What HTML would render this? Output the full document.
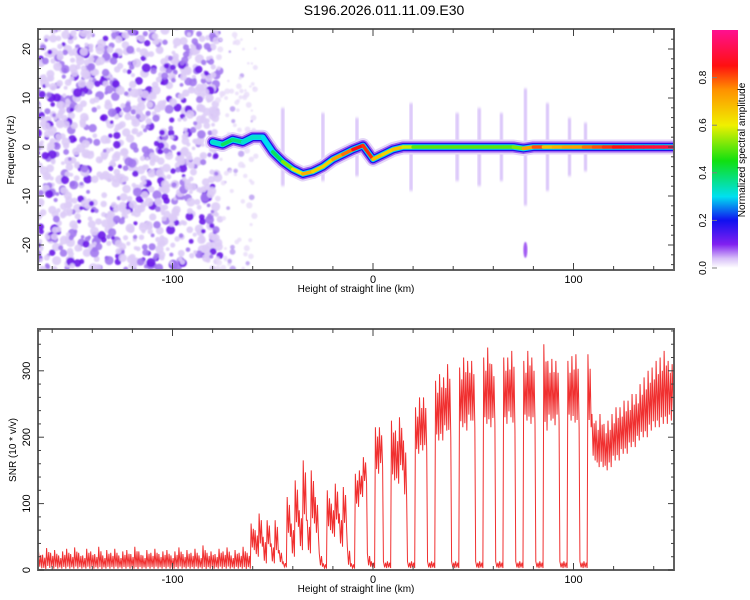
<!DOCTYPE html>
<html><head><meta charset="utf-8">
<style>
body{margin:0;background:#fff;}
svg{display:block;font-family:"Liberation Sans",sans-serif;}
</style></head><body>
<svg id="c" width="750" height="600" viewBox="0 0 750 600">
<defs>
<linearGradient id="cmap" x1="0" y1="1" x2="0" y2="0">
<stop offset="0" stop-color="#ffffff"/><stop offset="0.04" stop-color="#d8c0f8"/>
<stop offset="0.1" stop-color="#8020f0"/><stop offset="0.2" stop-color="#1010f0"/>
<stop offset="0.3" stop-color="#00e0f0"/><stop offset="0.45" stop-color="#10e010"/>
<stop offset="0.6" stop-color="#f0f000"/><stop offset="0.75" stop-color="#ff9000"/>
<stop offset="0.85" stop-color="#ff1010"/><stop offset="1" stop-color="#ff1090"/>
</linearGradient>
<clipPath id="clipTop"><rect x="38" y="29" width="636" height="241"/></clipPath>
<clipPath id="clipBot"><rect x="38" y="329" width="636" height="241"/></clipPath>
<filter id="soft"><feGaussianBlur stdDeviation="0.7"/></filter>
<filter id="soft2"><feGaussianBlur stdDeviation="1.2"/></filter>
</defs>
<text x="384" y="15" text-anchor="middle" font-size="14">S196.2026.011.11.09.E30</text>
<g id="topg" clip-path="url(#clipTop)"></g>
<g id="botg" clip-path="url(#clipBot)"></g>
<g id="axes"></g>
</svg>
<script>
// Spectrogram ridge data
const ridgeHeights=[-80,-75,-70,-65,-60,-55,-50,-45,-40,-35,-30,-25,-20,-15,-10,-5,0,5,10,15,20,25,30,35,40,45,50,55,60,65,70,75,80,85,90,95,100,105,110,115,120,125,130,135,140,145,150];
const ridgeFreq=[1,0.5,1.5,1,2,2,-1,-3,-4.5,-5.5,-5,-4,-2.5,-1.5,-0.5,0.3,-2.5,-1.5,-0.5,0,0,0,0,0,0,0,0,0,0,0,0,-0.3,0,0,0,0,0,0,0,0,0,0,0,0,0,0,0];
const ridgeAmp=[0.3,0.35,0.45,0.3,0.35,0.3,0.3,0.5,0.55,0.7,0.7,0.6,0.7,0.75,0.8,0.9,0.75,0.6,0.7,0.65,0.5,0.5,0.5,0.5,0.5,0.5,0.5,0.5,0.5,0.5,0.5,0.55,0.9,0.7,0.65,0.75,0.7,0.75,0.8,0.8,0.85,0.85,0.88,0.88,0.9,0.9,0.92];
const smearHeights=[-45,-25,-8,19,42,53,64,76,87,98,106];
const smearSpan=[8,7,6,9,7,8,7,12,9,6,5];
// SNR data: bin mean and noise spread, heights from -166 in 2 km steps
const snrStart=-166, snrStep=2;
const snrMean=[15,12,18,14,16,12,15,17,13,18,14,12,17,15,13,18,12,16,14,17,12,15,16,13,18,15,12,16,14,17,13,15,16,12,15,18,13,16,14,17,12,19,14,15,13,17,15,18,12,16,14,18,14,
50,40,60,30,55,25,50,20,8,80,45,100,60,120,50,110,80,15,6,90,75,100,60,95,20,6,120,130,150,15,
8,180,185,
8,8,180,170,190,150,8,8,210,220,
220,8,8,240,245,250,255,8,8,260,
265,270,265,8,8,270,275,265,8,8,
270,275,270,8,8,270,275,270,8,8,
275,270,268,270,8,8,270,272,270,8,
8,270,200,190,195,185,190,200,205,210,
215,220,225,230,240,245,255,260,265,270,
275,270,270];
const snrSpread=[25,22,30,24,28,20,26,30,22,32,24,20,30,26,22,34,20,28,24,30,20,26,28,22,34,26,20,28,24,30,22,26,28,20,26,32,22,28,24,30,20,36,24,26,22,30,26,32,20,28,24,34,24,
40,40,50,40,40,30,50,20,8,60,50,70,60,90,50,80,60,20,8,60,50,60,50,60,30,8,50,40,40,20,
10,70,60,
10,10,90,80,80,90,10,10,70,80,
80,10,10,90,100,80,110,10,10,90,
110,90,100,10,10,100,120,90,10,10,
100,90,120,10,10,90,110,100,10,10,
130,90,100,90,10,10,90,100,110,10,
10,110,70,70,80,70,70,70,80,70,
80,70,80,70,80,90,90,90,100,100,
110,90,80];
const xTicksLabeled=[-100,0,100];
const freqTicks=[-20,-10,0,10,20];
const snrTicks=[0,100,200,300];
const cbTicks=[0.0,0.2,0.4,0.6,0.8];

const NS='http://www.w3.org/2000/svg';
function mk(tag,attrs,parent){const e=document.createElementNS(NS,tag);for(const k in attrs)e.setAttribute(k,attrs[k]);parent.appendChild(e);return e;}
const X=km=>373+2.005*km;
const YF=f=>147-4.9*f;
const YS=s=>570-0.664*s;
function cmap(a){const st=[[0,[255,255,255]],[0.04,[216,192,248]],[0.1,[128,32,240]],[0.2,[16,16,240]],[0.3,[0,224,240]],[0.45,[16,224,16]],[0.6,[240,240,0]],[0.75,[255,144,0]],[0.85,[255,16,16]],[1,[255,16,144]]];
for(let i=1;i<st.length;i++){if(a<=st[i][0]){const t=(a-st[i-1][0])/(st[i][0]-st[i-1][0]);const c=st[i-1][1].map((v,j)=>Math.round(v+(st[i][1][j]-v)*t));return `rgb(${c})`;}}return 'rgb(255,16,144)';}

const topG=document.getElementById('topg');
// noise texture (decorative)
let seed=12345;function rnd(){seed=(seed*1103515245+12345)%2147483648;return seed/2147483648;}
const noise=mk('g',{filter:'url(#soft)'},topG);


for(let i=0;i<1150;i++){const km=-168+rnd()*92, f=-25+rnd()*50;
 const r=rnd(); mk('circle',{cx:X(km),cy:YF(f),r:1.8+rnd()*2.8,fill:r<0.6?'#ddccf7':(r<0.86?'#a278f0':'#6a18e8'),opacity:0.9},noise);}
for(let i=0;i<110;i++){const km=-78+rnd()*20, f=-25+rnd()*50;
 mk('circle',{cx:X(km),cy:YF(f),r:1.2+rnd()*2,fill:rnd()<0.85?'#e8dcf9':'#b899f0',opacity:0.8},noise);}
// smears
smearHeights.forEach((h,i)=>{const s=mk('rect',{x:X(h)-1.5,y:YF(smearSpan[i]),width:3,height:YF(-smearSpan[i])-YF(smearSpan[i]),fill:'#9a60f0',opacity:0.45,rx:1.5,filter:'url(#soft2)'},topG);
 
 });
const bl=mk('ellipse',{cx:X(76),cy:YF(-21),rx:2,ry:8,fill:'#8a30f0',opacity:0.8,filter:'url(#soft)'},topG);


// ridge
const pts=ridgeHeights.map((h,i)=>X(h)+','+YF(ridgeFreq[i])).join(' ');
[['#e4d6f8',15],['#a060f0',11],['#2010e8',8],['#00d8f0',5.5]].forEach(([c,w])=>{const p=mk('polyline',{points:pts,fill:'none',stroke:c,'stroke-width':w,'stroke-linejoin':'round','stroke-linecap':'round'},topG);
 
 });
for(let i=0;i<ridgeHeights.length-1;i++){const a=(ridgeAmp[i]+ridgeAmp[i+1])/2;
 const s=mk('line',{x1:X(ridgeHeights[i]),y1:YF(ridgeFreq[i]),x2:X(ridgeHeights[i+1]),y2:YF(ridgeFreq[i+1]),stroke:cmap(a),'stroke-width':3.5,'stroke-linecap':'round'},topG);
 
 }

// SNR line (zigzag between mean±spread within each bin)
const botG=document.getElementById('botg');
const spts=[];
snrMean.forEach((m,i)=>{const h=snrStart+i*snrStep,s=snrSpread[i];
 spts.push(X(h-0.8)+','+YS(m+s*0.5));
 spts.push(X(h-0.2)+','+YS(Math.max(0,m-s*0.4)));
 spts.push(X(h+0.3)+','+YS(m+s*0.3));
 spts.push(X(h+0.8)+','+YS(Math.max(0,m-s*0.5)));});
const sl=mk('polyline',{points:spts.join(' '),fill:'none',stroke:'#f03030','stroke-width':1,'stroke-linejoin':'miter'},botG);



// axes
const ax=document.getElementById('axes');
function frame(t,b,name){const r=mk('rect',{x:38,y:t,width:636,height:b-t,fill:'none',stroke:'#606060','stroke-width':2},ax);
 
 
 for(let k=-160;k<=140;k+=20){const tl=k%100===0?7:4;mk('line',{x1:X(k),y1:b,x2:X(k),y2:b-tl,stroke:'#404040'},ax);mk('line',{x1:X(k),y1:t,x2:X(k),y2:t+tl,stroke:'#404040'},ax);}
 xTicksLabeled.forEach(k=>{const tx=mk('text',{x:X(k),y:b+13,'text-anchor':'middle','font-size':11},ax);tx.textContent=k;
  
  });
 const xl=mk('text',{x:356,y:b+22,'text-anchor':'middle','font-size':10},ax);xl.textContent='Height of straight line (km)';
 
 }
frame(29,270,'spectrogram-frame');frame(329,570,'snr-frame');
for(let f=-24;f<=24;f+=2){const tl=f%10===0?6:3;mk('line',{x1:38,y1:YF(f),x2:38+tl,y2:YF(f),stroke:'#404040'},ax);mk('line',{x1:674,y1:YF(f),x2:674-tl,y2:YF(f),stroke:'#404040'},ax);}
freqTicks.forEach(f=>{const tx=mk('text',{transform:`translate(30,${YF(f)}) rotate(-90)`,'text-anchor':'middle','font-size':11},ax);tx.textContent=f;
 
 });
const yl1=mk('text',{transform:'translate(14,150) rotate(-90)','text-anchor':'middle','font-size':10},ax);yl1.textContent='Frequency (Hz)';


for(let s=0;s<=360;s+=20){const tl=s%100===0?6:3;mk('line',{x1:38,y1:YS(s),x2:38+tl,y2:YS(s),stroke:'#404040'},ax);mk('line',{x1:674,y1:YS(s),x2:674-tl,y2:YS(s),stroke:'#404040'},ax);}
snrTicks.forEach(s=>{const tx=mk('text',{transform:`translate(30,${YS(s)}) rotate(-90)`,'text-anchor':'middle','font-size':11},ax);tx.textContent=s;
 
 });
const yl2=mk('text',{transform:'translate(16,450) rotate(-90)','text-anchor':'middle','font-size':10},ax);yl2.textContent='SNR (10 * v/v)';


// colorbar
const cb=mk('rect',{x:712,y:30,width:26,height:238,fill:'url(#cmap)'},ax);


cbTicks.forEach(v=>{const y=268-238*v;mk('line',{x1:712,y1:y,x2:717,y2:y,stroke:'#808080'},ax);
 const tx=mk('text',{transform:`translate(706,${y}) rotate(-90)`,'text-anchor':'middle','font-size':10},ax);tx.textContent=v.toFixed(1);
 
 });
const cbl=mk('text',{transform:'translate(745,150) rotate(-90)','text-anchor':'middle','font-size':10},ax);cbl.textContent='Normalized spectral amplitude';


</script>
</body></html>
